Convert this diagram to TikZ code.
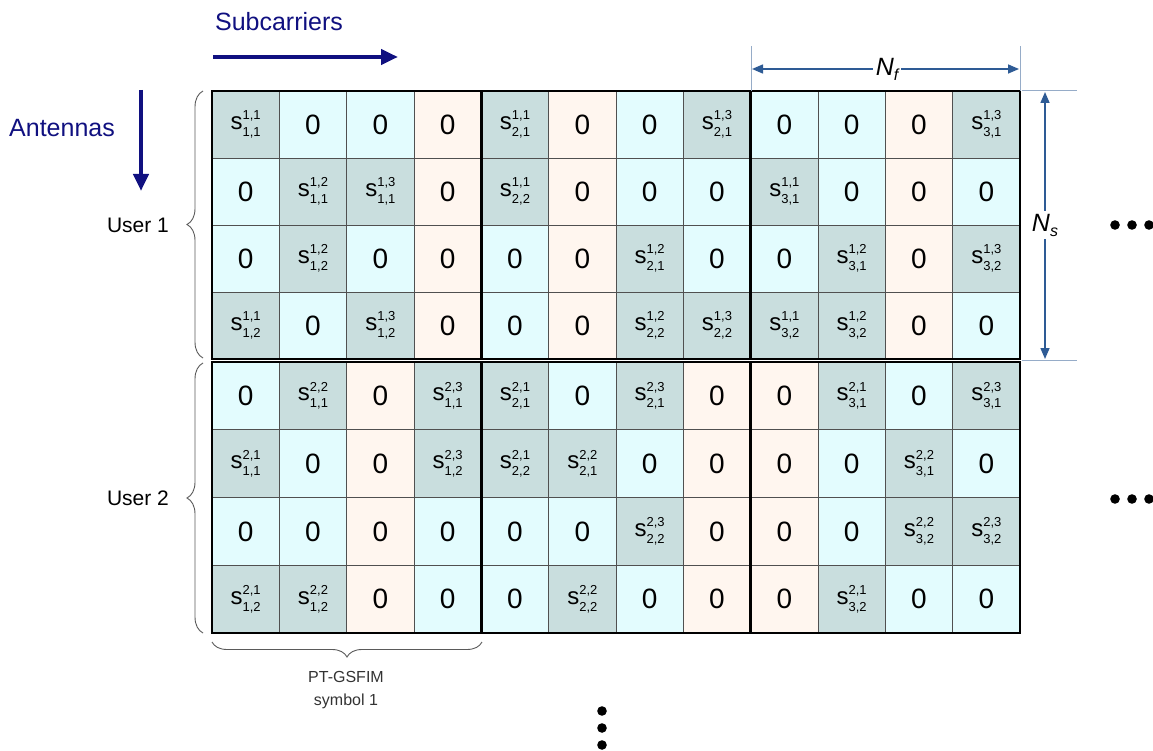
\documentclass[tikz,border=0pt]{standalone}
\usepackage{fontspec}
\setmainfont{Liberation Sans}
\usetikzlibrary{arrows.meta,decorations.pathreplacing}

\definecolor{navy}{RGB}{16,16,128}
\definecolor{dimblue}{RGB}{46,91,149}
\definecolor{extblue}{RGB}{150,172,200}
\definecolor{sigfill}{RGB}{201,222,222}
\definecolor{zerofill}{RGB}{227,252,254}
\definecolor{orgfill}{RGB}{255,246,239}
\definecolor{gridline}{RGB}{80,80,80}
\definecolor{bracegray}{RGB}{90,90,90}

\newcommand\sv[4]{{\fontsize{24}{24}\selectfont s}{\fontsize{13}{13}\selectfont\raisebox{-7pt}{\vbox{\baselineskip=16.5pt\lineskiplimit=-20pt\lineskip=0pt\hbox{#1,#2}\hbox{#3,#4}}}}}
\newcommand\zr{{\fontsize{28}{28}\selectfont 0}}

\newcommand\userblock[4]{%
  \foreach \row [count=\r] in {#4} {
    \foreach \t/\a/\b/\c/\d [count=\k] in \row {
      \pgfmathsetmacro\cx{212+(\k-0.5)*67.3333}
      \pgfmathsetmacro\cy{#2+(\r-0.5)*#3}
      \if s\t
        \node[cellbase,fill=sigfill,minimum height=#3pt] (c#1-\r-\k) at (\cx,\cy) {\sv\a\b\c\d};
      \else\if o\t
        \node[cellbase,fill=orgfill,minimum height=#3pt] (c#1-\r-\k) at (\cx,\cy) {\zr};
      \else
        \node[cellbase,fill=zerofill,minimum height=#3pt] (c#1-\r-\k) at (\cx,\cy) {\zr};
      \fi\fi
    }
  }
}

\begin{document}
\begin{tikzpicture}[x=1pt,y=-1pt,
  cellbase/.style={draw=gridline,line width=0.9pt,minimum width=67.3333pt,inner sep=0pt,outer sep=0pt},
  frame/.style={draw=black,line width=2.5pt},
  navytext/.style={text=navy,font=\fontsize{25}{25}\selectfont},
  usertext/.style={text=black,font=\fontsize{21}{21}\selectfont},
  bigarrow/.style={draw=navy,line width=4.5pt,-{Triangle[length=17pt,width=15pt]}},
  curly/.style={draw=bracegray,line width=0.9pt,decorate,decoration={brace,amplitude=16pt}},
  extline/.style={draw=extblue,line width=1pt},
  dimarrow/.style={draw=dimblue,line width=1.5pt,{Triangle[length=11pt,width=9pt]}-{Triangle[length=11pt,width=9pt]}},
  dimlabel/.style={fill=white,inner sep=3pt,font=\fontsize{25}{25}\selectfont\itshape},
  dot/.style={fill=black}
]
\useasboundingbox (0,0) rectangle (1153,751);

\userblock{1}{91}{67}{
 {s/1/1/1/1,z,z,o, s/1/1/2/1,o,z,s/1/3/2/1, z,z,o,s/1/3/3/1},
 {z,s/1/2/1/1,s/1/3/1/1,o, s/1/1/2/2,o,z,z, s/1/1/3/1,z,o,z},
 {z,s/1/2/1/2,z,o, z,o,s/1/2/2/1,z, z,s/1/2/3/1,o,s/1/3/3/2},
 {s/1/1/1/2,z,s/1/3/1/2,o, z,o,s/1/2/2/2,s/1/3/2/2, s/1/1/3/2,s/1/2/3/2,o,z}}
\userblock{2}{362}{67.75}{
 {z,s/2/2/1/1,o,s/2/3/1/1, s/2/1/2/1,z,s/2/3/2/1,o, o,s/2/1/3/1,z,s/2/3/3/1},
 {s/2/1/1/1,z,o,s/2/3/1/2, s/2/1/2/2,s/2/2/2/1,z,o, o,z,s/2/2/3/1,z},
 {z,z,o,z, z,z,s/2/3/2/2,o, o,z,s/2/2/3/2,s/2/3/3/2},
 {s/2/1/1/2,s/2/2/1/2,o,z, z,s/2/2/2/2,z,o, o,s/2/1/3/2,z,z}}

% thick frames
\foreach \u in {1,2} {
  \draw[frame] (c\u-1-1.north west) rectangle (c\u-4-12.south east);
  \draw[frame] (c\u-1-4.north east) -- (c\u-4-4.south east);
  \draw[frame] (c\u-1-8.north east) -- (c\u-4-8.south east);
}

% axis labels
\node[navytext] (sub) at (279,22) {Subcarriers};
\coordinate (subA) at (213,57);
\coordinate (subB) at (398,57);
\draw[bigarrow] (subA) -- (subB);
\node[navytext] (ant) at (62,128) {Antennas};
\coordinate (antA) at (141,90);
\coordinate (antB) at (141,191);
\draw[bigarrow] (antA) -- (antB);

% users
\node[usertext] (u1) at (138,225) {User 1};
\node[usertext] (u2) at (138,498) {User 2};
\coordinate (b1a) at (203,358);
\coordinate (b1b) at (203,91);
\coordinate (b2a) at (203,633);
\coordinate (b2b) at (203,363);
\draw[curly] (b1a) -- (b1b);
\draw[curly] (b2a) -- (b2b);

% PT-GSFIM brace
\coordinate (b3a) at (482,642);
\coordinate (b3b) at (212,642);
\draw[curly,decoration={brace,amplitude=15pt}] (b3a) -- (b3b);
\node[align=center,text=black!80,font=\fontsize{16}{23}\selectfont] (pt) at (346,690) {PT-GSFIM\\symbol 1};

% dots
\foreach \y in {711,728,745} \fill[dot] (602,\y) circle (4.8);
\foreach \y in {225,499} { \foreach \x in {1115,1132,1149} \fill[dot] (\x,\y) circle (4.8); }

% N_f dimension
\coordinate (nfL0) at (751,91);
\coordinate (nfL1) at (751,46);
\coordinate (nfR0) at (1020,91);
\coordinate (nfR1) at (1020,46);
\draw[extline] (nfL0) -- (nfL1);
\draw[extline] (nfR0) -- (nfR1);
\coordinate (nfA) at (752,69);
\coordinate (nfB) at (1019,69);
\draw[dimarrow] (nfA) -- (nfB);
\node[dimlabel] (nf) at (887,69) {N\raisebox{-5pt}{\fontsize{16}{16}\selectfont f}};

% N_s dimension
\coordinate (nsT0) at (1022,91);
\coordinate (nsT1) at (1077,91);
\coordinate (nsB0) at (1022,360);
\coordinate (nsB1) at (1077,360);
\draw[extline] (nsT0) -- (nsT1);
\draw[extline] (nsB0) -- (nsB1);
\coordinate (nsA) at (1045,92);
\coordinate (nsB) at (1045,359);
\draw[dimarrow] (nsA) -- (nsB);
\node[dimlabel] (ns) at (1045,225) {N\raisebox{-5pt}{\fontsize{16}{16}\selectfont s}};
\end{tikzpicture}
\end{document}
